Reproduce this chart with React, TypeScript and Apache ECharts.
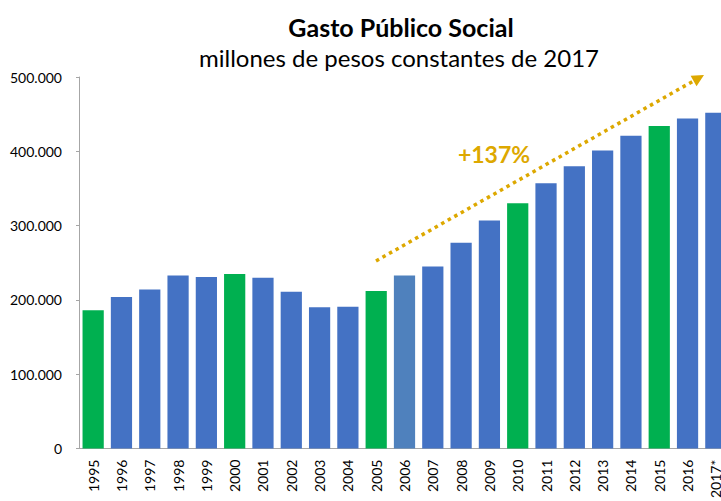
import React, { useEffect, useRef } from "react";
import * as echarts from "echarts";

const years = ["1995","1996","1997","1998","1999","2000","2001","2002","2003","2004","2005","2006","2007","2008","2009","2010","2011","2012","2013","2014","2015","2016","2017*"];
const values = [186000,204000,214000,233000,231000,235000,230000,211000,190000,191000,212000,233000,245000,277000,307000,330000,357000,380000,401000,421000,434000,444000,452000];
const greenYears = ["1995","2000","2005","2010","2015"];
const lightBlueYears = ["2006"];
const yTicks = { min: 0, max: 500000, interval: 100000 };

const BLUE = "#4472C4";
const GREEN = "#00B050";
const LIGHT = "#4F81BD";
const GOLD = "#DDA800";

export default function App() {
  const ref = useRef<HTMLDivElement>(null);
  useEffect(() => {
    if (!ref.current) return;
    const chart = echarts.init(ref.current, null, { renderer: "svg" });
    const tip = [704, 75];
    const start = [376, 261];
    const dx = tip[0] - start[0], dy = tip[1] - start[1];
    const len = Math.hypot(dx, dy);
    const ux = dx / len, uy = dy / len;
    const px = -uy, py = ux;
    const L = 12, W = 6;
    const bx = tip[0] - ux * L, by = tip[1] - uy * L;
    chart.setOption({
      animation: false,
      title: [
        {
          text: "Gasto Público Social",
          left: 396,
          textAlign: "center",
          top: 9,
          textStyle: { fontFamily: "Lato", fontWeight: "bold", fontSize: 25, color: "#000" },
        },
        {
          text: "millones de pesos constantes de 2017",
          left: 394,
          textAlign: "center",
          top: 40,
          textStyle: { fontFamily: "Lato", fontWeight: "normal", fontSize: 24, color: "#000" },
        },
      ],
      grid: { left: 79, right: 0, top: 77, bottom: 50, containLabel: false },
      xAxis: {
        type: "category",
        data: years,
        axisLine: { lineStyle: { color: "#A6A6A6" } },
        axisTick: { show: false },
        axisLabel: { rotate: 90, interval: 0, fontFamily: "Lato", fontSize: 14, color: "#000", margin: 11 },
      },
      yAxis: {
        type: "value",
        min: yTicks.min,
        max: yTicks.max,
        interval: yTicks.interval,
        axisLine: { show: true, lineStyle: { color: "#A6A6A6" } },
        axisTick: { show: true, length: 3, lineStyle: { color: "#A6A6A6" } },
        splitLine: { show: false },
        axisLabel: {
          fontFamily: "Lato",
          fontSize: 14,
          color: "#000",
          margin: 17,
          formatter: (v: number) => (v === 0 ? "0" : v.toLocaleString("de-DE")),
        },
      },
      series: [
        {
          type: "bar",
          barCategoryGap: "25%",
          data: values.map((v, i) => ({
            value: v,
            itemStyle: {
              color: greenYears.includes(years[i]) ? GREEN : lightBlueYears.includes(years[i]) ? LIGHT : BLUE,
            },
          })),
        },
      ],
      graphic: [
        {
          type: "line",
          shape: { x1: start[0], y1: start[1], x2: bx, y2: by },
          style: { stroke: GOLD, lineWidth: 3.5, lineDash: [3.5, 4] },
        },
        {
          type: "polygon",
          shape: {
            points: [
              [tip[0], tip[1]],
              [bx + px * W, by + py * W],
              [bx - px * W, by - py * W],
            ],
          },
          style: { fill: GOLD },
        },
        {
          type: "text",
          x: 494,
          y: 154,
          style: {
            text: "+137%",
            fill: GOLD,
            font: "bold 23px Lato",
            textAlign: "center",
            textVerticalAlign: "middle",
          },
        },
      ],
    });
    return () => chart.dispose();
  }, []);
  return (
    <div style={{ width: 721, height: 501, position: "absolute", left: 0, top: 0, overflow: "hidden" }}>
      <div ref={ref} style={{ width: 730, height: 501 }} />
    </div>
  );
}
